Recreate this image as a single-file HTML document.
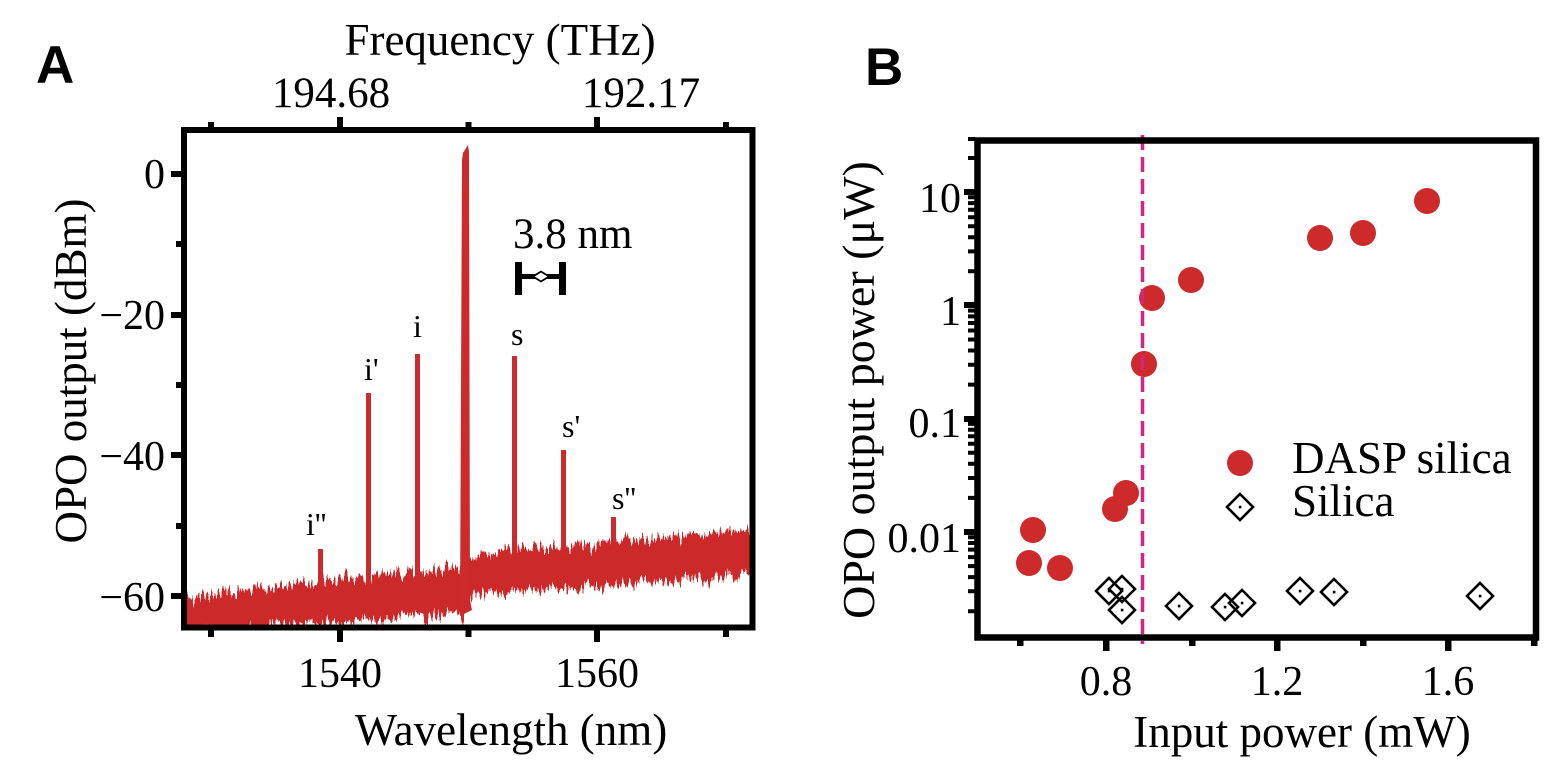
<!DOCTYPE html>
<html>
<head>
<meta charset="utf-8">
<style>
html,body{margin:0;padding:0;background:#fff;}
svg{display:block;}
text{font-family:"Liberation Serif","DejaVu Serif",serif;fill:#000;}
.pl{font-family:"Liberation Sans","DejaVu Sans",sans-serif;font-weight:bold;font-size:53px;}
.ax{font-size:45px;}
.tk{font-size:42px;}
.pk{font-size:32px;}
</style>
</head>
<body>
<svg width="1568" height="768" viewBox="0 0 1568 768" xmlns="http://www.w3.org/2000/svg">
<defs>
<clipPath id="ca"><rect x="187" y="133" width="562.5" height="491.5"/></clipPath>
<filter id="rough" filterUnits="userSpaceOnUse" x="150" y="450" width="650" height="220">
<feTurbulence type="fractalNoise" baseFrequency="0.45 0.015" numOctaves="2" seed="7" result="t"/>
<feColorMatrix in="t" type="matrix" values="0 0 0 0 0.5  0 1 0 0 0  0 0 1 0 0  0 0 0 0 1" result="m"/>
<feDisplacementMap in="SourceGraphic" in2="m" scale="26" xChannelSelector="R" yChannelSelector="G"/>
</filter>
</defs>
<rect width="1568" height="768" fill="#fff"/>

<text class="pl" x="36" y="83">A</text>
<text class="ax" x="500" y="55" text-anchor="middle">Frequency (THz)</text>
<text class="tk" x="331" y="107" text-anchor="middle" style="font-size:43px">194.68</text>
<text class="tk" x="641" y="107" text-anchor="middle" style="font-size:43px">192.17</text>

<g clip-path="url(#ca)" fill="#cc2a2b">
<g filter="url(#rough)">
<polygon points="170,598 186,597 194,600 202,593 210,596 218,594 226,589 234,595 242,590 250,591 258,586 266,592 274,587 282,584 290,588 298,580 306,584 314,586 322,579 330,580 338,581 346,575 354,580 362,576 370,580 378,573 386,575 394,572 402,576 410,569 418,570 426,573 434,568 442,569 450,564 458,568 464,566 464,619 458,614 450,613 442,617 434,615 426,619 418,613 410,618 402,615 394,621 386,619 378,618 370,622 362,617 354,624 346,621 338,623 330,620 322,625 314,624 306,620 298,629 290,623 282,628 274,623 266,626 258,630 250,624 242,629 234,627 226,633 218,629 210,626 202,633 194,629 186,632 170,634"/>
<polygon points="464,556 466,554 474,557 482,551 490,555 498,552 506,547 514,554 522,548 530,551 538,545 546,551 554,547 562,545 570,548 578,540 586,545 594,547 602,540 610,542 618,543 626,536 634,542 642,538 650,542 658,536 666,538 674,534 682,539 690,532 698,534 706,537 714,531 722,533 730,528 738,533 746,529 770,530 770,575 746,572 738,577 730,576 722,580 714,578 706,582 698,576 690,581 682,578 674,583 666,582 658,581 650,584 642,580 634,587 626,584 618,586 610,583 602,589 594,587 586,584 578,592 570,587 562,590 554,587 546,589 538,593 530,588 522,592 514,591 506,596 498,593 490,590 482,596 474,592 466,606 464,613"/>
</g>
<polygon points="460,616 462,160 463,153 468,145 469,152 470,600 472,610"/>
<path d="M318 549h5v40h-5z M366 393h5v190h-5z M415 354h5v225h-5z M512 356h5v200h-5z M561 450h5v105h-5z M611 517h5v35h-5z"/>
</g>

<text class="pk" x="306" y="535">i''</text>
<text class="pk" x="364" y="380">i'</text>
<text class="pk" x="413" y="337">i</text>
<text class="pk" x="511" y="345">s</text>
<text class="pk" x="562" y="437">s'</text>
<text class="pk" x="612" y="509">s''</text>

<text x="513" y="248" style="font-size:43px">3.8 nm</text>
<path d="M515 262h7v33h-7z M559 262h7v33h-7z M518 274h44v5h-44z" fill="#000"/>
<polygon points="533,276.5 541,271.5 549,276.5 541,281.5" fill="#fff" stroke="#000" stroke-width="1.8"/>

<rect x="184" y="130" width="568.5" height="497.5" fill="none" stroke="#000" stroke-width="6"/>
<path fill="none" stroke="#000" stroke-width="6" d="M211 630v7 M340 630v12 M468.5 630v7 M597 630v12 M726 630v7 M211 128v-6 M340 128v-11 M468.5 128v-6 M597 128v-11 M726 128v-6 M182 174h-11 M182 244h-6 M182 315h-11 M182 385h-6 M182 455h-11 M182 526h-6 M182 596h-11"/>
<g text-anchor="end">
<text x="165" y="188" class="tk">0</text>
<text x="165" y="329" class="tk">−20</text>
<text x="165" y="470" class="tk">−40</text>
<text x="165" y="611" class="tk">−60</text>
</g>
<text class="tk" x="340" y="687" text-anchor="middle">1540</text>
<text class="tk" x="597" y="687" text-anchor="middle">1560</text>
<text class="ax" x="511" y="745" text-anchor="middle">Wavelength (nm)</text>
<text class="ax" transform="translate(86,371) rotate(-90)" text-anchor="middle">OPO output (dBm)</text>

<text class="pl" x="865" y="85">B</text>

<g fill="#cc2a2b">
<circle cx="1029" cy="563" r="13"/>
<circle cx="1033" cy="530" r="13"/>
<circle cx="1060" cy="568" r="13"/>
<circle cx="1115" cy="509" r="13"/>
<circle cx="1126" cy="493" r="13"/>
<circle cx="1144" cy="364" r="13"/>
<circle cx="1152" cy="298" r="13"/>
<circle cx="1191" cy="280" r="13"/>
<circle cx="1320" cy="238" r="13"/>
<circle cx="1363" cy="233" r="13"/>
<circle cx="1427" cy="201" r="13"/>
<circle cx="1240" cy="463" r="13"/>
</g>
<path fill="none" stroke="#000" stroke-width="2.6" d="M1109,578l13,13l-13,13l-13,-13z M1122,576l13,13l-13,13l-13,-13z M1122,597l13,13l-13,13l-13,-13z M1179,593l13,13l-13,13l-13,-13z M1225,594l13,13l-13,13l-13,-13z M1242,590l13,13l-13,13l-13,-13z M1300,578l13,13l-13,13l-13,-13z M1334,579l13,13l-13,13l-13,-13z M1480,583l13,13l-13,13l-13,-13z M1240,494l13,13l-13,13l-13,-13z"/>
<path fill="#000" d="M1107.8 589.8h2.6v2.6h-2.6z M1120.8 587.8h2.6v2.6h-2.6z M1120.8 608.8h2.6v2.6h-2.6z M1177.8 604.8h2.6v2.6h-2.6z M1223.8 605.8h2.6v2.6h-2.6z M1240.8 601.8h2.6v2.6h-2.6z M1298.8 589.8h2.6v2.6h-2.6z M1332.8 590.8h2.6v2.6h-2.6z M1478.8 594.8h2.6v2.6h-2.6z M1238.8 505.8h2.6v2.6h-2.6z"/>

<line x1="1142.5" y1="135" x2="1142.5" y2="644" stroke="#d4267f" stroke-width="3.5" stroke-dasharray="15 7"/>

<text class="ax" x="1292" y="473">DASP silica</text>
<text class="ax" x="1292" y="516">Silica</text>

<rect x="977.5" y="140.5" width="558.5" height="497" fill="none" stroke="#000" stroke-width="6.5"/>
<path fill="none" stroke="#000" stroke-width="6.5" d="M1020.25 640v6 M1106.25 640v11 M1192.25 640v6 M1277.25 640v11 M1363.25 640v6 M1448.25 640v11 M1534.25 640v6"/>
<path fill="none" stroke="#000" stroke-width="6" d="M975 192h-11 M975 305h-11 M975 419h-11 M975 532h-11"/>
<path fill="none" stroke="#000" stroke-width="4" d="M975 139h-7 M975 158h-7 M975 197.3h-7 M975 203.1h-7 M975 209.7h-7 M975 217.2h-7 M975 226.2h-7 M975 237.2h-7 M975 251.4h-7 M975 271.3h-7 M975 310.6h-7 M975 316.4h-7 M975 323h-7 M975 330.5h-7 M975 339.5h-7 M975 350.5h-7 M975 364.7h-7 M975 384.6h-7 M975 423.9h-7 M975 429.7h-7 M975 436.3h-7 M975 443.8h-7 M975 452.8h-7 M975 463.8h-7 M975 478h-7 M975 497.9h-7 M975 537.2h-7 M975 543h-7 M975 549.6h-7 M975 557.1h-7 M975 566.1h-7 M975 577.1h-7 M975 591.3h-7 M975 611.2h-7"/>
<g text-anchor="end">
<text class="tk" x="961" y="212">10</text>
<text class="tk" x="961" y="325">1</text>
<text class="tk" x="961" y="437">0.1</text>
<text class="tk" x="961" y="552">0.01</text>
</g>
<text class="tk" x="1106" y="695" text-anchor="middle">0.8</text>
<text class="tk" x="1277" y="695" text-anchor="middle">1.2</text>
<text class="tk" x="1448" y="695" text-anchor="middle">1.6</text>
<text class="ax" x="1302" y="747" text-anchor="middle">Input power (mW)</text>
<text class="ax" transform="translate(874,390) rotate(-90)" text-anchor="middle" style="font-size:46px">OPO output power (μW)</text>
</svg>
</body>
</html>
